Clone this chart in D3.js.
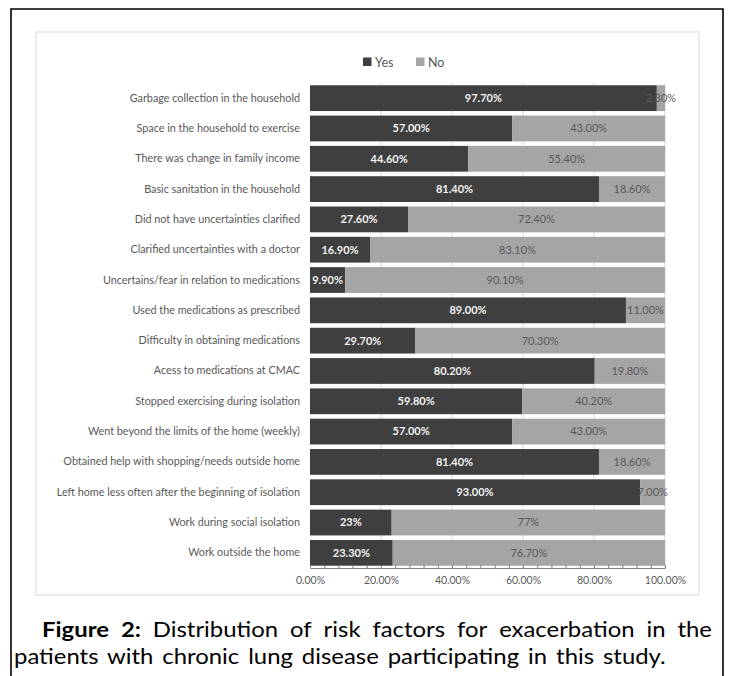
<!DOCTYPE html>
<html>
<head>
<meta charset="utf-8">
<script src="https://cdn.jsdelivr.net/npm/d3@7/dist/d3.min.js"></script>
<style>
  html, body { margin: 0; padding: 0; background: #fff; }
  svg { display: block; }
</style>
</head>
<body>
<svg id="fig" width="729" height="676"></svg>
<script>
// Risk factors, listed top to bottom
const categories = [
  "Garbage collection in the household",
  "Space in the household to exercise",
  "There was change in family income",
  "Basic sanitation in the household",
  "Did not have uncertainties clarified",
  "Clarified uncertainties with a doctor",
  "Uncertains/fear in relation to medications",
  "Used the medications as prescribed",
  "Difficulty in obtaining medications",
  "Acess to medications at CMAC",
  "Stopped exercising during isolation",
  "Went beyond the limits of the home (weekly)",
  "Obtained help with shopping/needs outside home",
  "Left home less often after the beginning of isolation",
  "Work during social isolation",
  "Work outside the home"
];
const yesValues = [97.7, 57.0, 44.6, 81.4, 27.6, 16.9, 9.9, 89.0, 29.7, 80.2, 59.8, 57.0, 81.4, 93.0, 23, 23.3];
const noValues  = [2.3, 43.0, 55.4, 18.6, 72.4, 83.1, 90.1, 11.0, 70.3, 19.8, 40.2, 43.0, 18.6, 7.0, 77, 76.7];
// decimals shown in each row's data labels
const labelDecimals = [2, 2, 2, 2, 2, 2, 2, 2, 2, 2, 2, 2, 2, 2, 0, 2];
const seriesNames = ["Yes", "No"];
const axisTicks = [0, 20, 40, 60, 80, 100];

const colors = { Yes: "#3f3f3f", No: "#a5a5a5" };
const textGray = "#595959";
const font = "Lato, 'Open Sans', sans-serif";

const svg = d3.select("#fig");

// outer figure frame (open at the bottom)
svg.append("path")
  .attr("d", "M11,676 L11,9 L723,9 L723,676")
  .attr("fill", "none").attr("stroke", "#000").attr("stroke-width", 1.6);

// chart area box
svg.append("rect")
  .attr("x", 36).attr("y", 32).attr("width", 663).attr("height", 563)
  .attr("fill", "#fff").attr("stroke", "#d9d9d9").attr("stroke-width", 1);

const x = d3.scaleLinear().domain([0, 100]).range([310, 665]);
const y = d3.scaleBand().domain(categories).range([83, 568])
  .paddingInner(0.15).paddingOuter(0.075);

// vertical gridlines
svg.append("g").selectAll("line")
  .data(axisTicks.filter(d => d > 0))
  .join("line")
  .attr("x1", d => x(d)).attr("x2", d => x(d))
  .attr("y1", 83).attr("y2", 568)
  .attr("stroke", "#d9d9d9").attr("stroke-width", 1);

const rows = categories.map((c, i) => ({
  cat: c, yes: yesValues[i], no: noValues[i], dec: labelDecimals[i]
}));

// stacked bars
const barG = svg.append("g");
barG.selectAll("rect.yes").data(rows).join("rect")
  .attr("class", "yes")
  .attr("x", x(0)).attr("y", d => y(d.cat))
  .attr("width", d => x(d.yes) - x(0))
  .attr("height", y.bandwidth())
  .attr("fill", colors.Yes);
barG.selectAll("rect.no").data(rows).join("rect")
  .attr("class", "no")
  .attr("x", d => x(d.yes)).attr("y", d => y(d.cat))
  .attr("width", d => x(d.yes + d.no) - x(d.yes))
  .attr("height", y.bandwidth())
  .attr("fill", colors.No);

// data labels
const lblG = svg.append("g").attr("font-family", font).attr("font-size", 11).attr("text-anchor", "middle");
lblG.selectAll("text.no").data(rows).join("text")
  .attr("class", "no")
  .attr("x", d => x(d.yes + d.no / 2))
  .attr("y", d => y(d.cat) + y.bandwidth() / 2)
  .attr("dy", "0.35em")
  .attr("fill", textGray)
  .text(d => d.no.toFixed(d.dec) + "%");
lblG.selectAll("text.yes").data(rows).join("text")
  .attr("class", "yes")
  .attr("x", d => x(d.yes / 2))
  .attr("y", d => y(d.cat) + y.bandwidth() / 2)
  .attr("dy", "0.35em")
  .attr("fill", "#f2f2f2")
  .attr("font-weight", 700)
  .text(d => d.yes.toFixed(d.dec) + "%");

// category axis
const yAxis = svg.append("g")
  .attr("transform", `translate(${x(0)},0)`)
  .call(d3.axisLeft(y).tickSize(0).tickPadding(10));
yAxis.select(".domain").remove();
yAxis.selectAll("text").attr("font-family", font).attr("font-size", 10.8).attr("fill", textGray);

// value axis: line with minor inside ticks
const xMinor = svg.append("g")
  .attr("transform", `translate(0,568)`)
  .call(d3.axisBottom(x).tickValues(d3.range(0, 101, 4)).tickSize(-3).tickSizeOuter(0).tickFormat(""));
xMinor.selectAll("line").attr("stroke", "#7f7f7f");
xMinor.select(".domain").attr("stroke", "#7f7f7f");

const xAxis = svg.append("g")
  .attr("transform", `translate(0,568)`)
  .call(d3.axisBottom(x).tickValues(axisTicks).tickSize(0).tickPadding(8.5)
    .tickFormat(d => d.toFixed(2) + "%"));
xAxis.select(".domain").remove();
xAxis.selectAll("text").attr("font-family", font).attr("font-size", 10.5).attr("fill", textGray);

// legend
const legend = svg.append("g").attr("font-family", font).attr("font-size", 12.5).attr("fill", textGray);
const legendX = [363, 416];
seriesNames.forEach((s, i) => {
  legend.append("rect").attr("x", legendX[i]).attr("y", 57.5).attr("width", 8.5).attr("height", 8.5)
    .attr("fill", colors[s]);
  legend.append("text").attr("x", legendX[i] + 12).attr("y", 66.5).text(s);
});

// caption: second line fills its width, first line is justified word by word
const capSize = 21;
const wordSpace = 2.5;
const capG = svg.append("g").attr("font-family", font).attr("font-size", capSize).attr("fill", "#000");
const line2 = "patients with chronic lung disease participating in this study.";
const probe = capG.append("text").attr("word-spacing", wordSpace).text(line2);
const natural2 = probe.node().getComputedTextLength();
probe.remove();
const sx = (666 - 14) / natural2;

const l2 = capG.append("g").attr("transform", `translate(14,664) scale(${sx},1)`);
l2.append("text").attr("x", 0).attr("y", 0).attr("word-spacing", wordSpace).text(line2);

const words1 = [
  { t: "Figure", b: true }, { t: "2:", b: true }, { t: "Distribution" }, { t: "of" },
  { t: "risk" }, { t: "factors" }, { t: "for" }, { t: "exacerbation" }, { t: "in" }, { t: "the" }
];
words1.forEach(w => {
  const p = capG.append("text").attr("font-weight", w.b ? 700 : 400).text(w.t);
  w.w = p.node().getComputedTextLength() * sx;
  p.remove();
});
const start1 = 42, end1 = 712;
const totalW = d3.sum(words1, w => w.w);
const gap = (end1 - start1 - totalW) / (words1.length - 1);
let cx = start1;
words1.forEach(w => {
  capG.append("g").attr("transform", `translate(${cx},637) scale(${sx},1)`)
    .append("text").attr("font-weight", w.b ? 700 : 400).text(w.t);
  cx += w.w + gap;
});
</script>
</body>
</html>
